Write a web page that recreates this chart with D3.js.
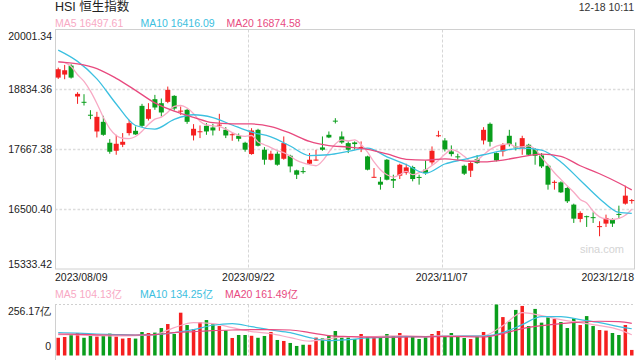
<!DOCTYPE html>
<html><head><meta charset="utf-8">
<script src="https://cdn.jsdelivr.net/npm/d3@7/dist/d3.min.js"></script>
<style>
html,body{margin:0;padding:0;background:#fff;}
svg{display:block;font-family:"Liberation Sans",Arial,"Noto Sans CJK SC",sans-serif;}
</style></head>
<body><svg id="c" width="640" height="360"></svg>
<script>
// ---------- data ----------
const dates = ["2023/08/09","2023/08/10","2023/08/11","2023/08/14","2023/08/15","2023/08/16","2023/08/17","2023/08/18","2023/08/21","2023/08/22","2023/08/23","2023/08/24","2023/08/25","2023/08/28","2023/08/29","2023/08/30","2023/08/31",
"2023/09/04","2023/09/05","2023/09/06","2023/09/07","2023/09/11","2023/09/12","2023/09/13","2023/09/14","2023/09/15","2023/09/18","2023/09/19","2023/09/20","2023/09/21","2023/09/22","2023/09/25","2023/09/26","2023/09/27","2023/09/28","2023/09/29",
"2023/10/03","2023/10/04","2023/10/05","2023/10/06","2023/10/09","2023/10/10","2023/10/11","2023/10/12","2023/10/13","2023/10/16","2023/10/17","2023/10/18","2023/10/19","2023/10/20","2023/10/24","2023/10/25","2023/10/26","2023/10/27","2023/10/30","2023/10/31",
"2023/11/01","2023/11/02","2023/11/03","2023/11/06","2023/11/07","2023/11/08","2023/11/09","2023/11/10","2023/11/13","2023/11/14","2023/11/15","2023/11/16","2023/11/17","2023/11/20","2023/11/21","2023/11/22","2023/11/23","2023/11/24","2023/11/27","2023/11/28","2023/11/29","2023/11/30","2023/12/01",
"2023/12/04","2023/12/05","2023/12/06","2023/12/07","2023/12/08","2023/12/11","2023/12/12","2023/12/13","2023/12/14","2023/12/15","2023/12/18"];

const open  = [19064,19123,19298,18695,18592,18340,18014,18202,17794,17638,17755,17982,18027,18513,18261,18643,18565,18591,18708,18413,18436,17936,18011,18124,18092,18140,18047,17953,17930,17794,
17574,18046,17658,17463,17580,17482,17541,17256,17241,17385,17460,17703,17949,18225,17917,17787,17800,17706,17528,17126,17035,17463,17087,17152,17204,17320,17128,17269,17411,17934,
17839,17625,17529,17346,17249,17476,17839,18163,17593,17625,17930,17722,17690,17755,17670,17547,17346,17026,17022,16912,16588,16309,16363,16344,16164,16218,16296,16407,16607,16672];
const high  = [19259,19311,19324,18779,18740,18429,18397,18319,17865,17949,17982,18241,18111,18552,18565,18727,18656,18889,18721,18500,18455,18157,18131,18176,18163,18358,18098,17982,17975,17813,
18078,18066,17709,17638,17625,17917,17560,17269,17320,17593,17658,17917,18014,18273,18014,17820,17820,17820,17541,17301,17126,17476,17171,17385,17385,17346,17171,17450,17722,18027,
17884,17742,17580,17366,17418,17554,18098,18189,17606,17787,18046,17800,17930,17774,17690,17593,17366,17061,17042,16932,16607,16458,16374,16439,16264,16393,16322,16568,16957,16698];
const low   = [19038,19032,19045,18552,18520,18254,17897,17930,17580,17560,17709,17936,17949,18098,18228,18436,18306,18565,18423,18338,18163,17839,17885,17949,17936,18027,17885,17833,17820,17619,
17560,17722,17366,17450,17346,17463,17217,17087,17191,17366,17444,17638,17884,18170,17774,17593,17658,17612,17256,17113,16880,17061,16912,17087,17171,17042,16977,17171,17366,17904,
17625,17528,17463,17165,17126,17385,17761,17722,17431,17528,17722,17645,17560,17547,17366,17301,16880,16880,16815,16620,16231,16244,16153,16231,15972,16153,16153,16309,16588,16607];
const close = [19227,19207,19064,18747,18582,18334,18299,17949,17619,17774,17813,18176,17956,18124,18449,18481,18384,18825,18461,18420,18202,18066,18018,18014,18034,18147,17936,17960,17871,17658,
18033,17735,17463,17580,17366,17787,17333,17171,17236,17463,17466,17658,17897,18219,17800,17658,17768,17712,17269,17130,16977,17074,17055,17366,17314,17087,17124,17204,17638,17940,
17665,17573,17525,17191,17398,17398,18046,17813,17450,17755,17768,17703,17884,17560,17541,17333,16977,17032,16828,16653,16315,16426,16358,16338,16169,16328,16218,16402,16763,16677];

// turnover, 亿
const volume = [89,93,104,113,89,98,95,99,110,95,85,88,85,118,113,115,138,158,108,215,153,133,168,178,157,148,125,88,103,103,
99,89,98,118,78,73,63,48,54,54,90,86,100,123,90,90,83,108,98,95,90,108,98,113,98,98,83,91,108,123,
98,113,93,88,83,95,118,95,256.17,193,170,229,249,148,234,165,192,183,168,138,187,153,198,148,128,125,113,103,153,28];

// moving averages
const ma5 = [19375,19355,19280,19120,18990,18800,18560,18290,18070,17935,17882,17875,17915,18020,18150,18254,18293,18390,18505,18520,18470,18360,18215,18140,18124,18110,18060,17990,17940,17920,
17935,17810,17755,17700,17640,17600,17530,17450,17400,17366,17346,17440,17610,17770,17850,17830,17850,17760,17610,17420,17269,17171,17126,17171,17236,17171,17210,17265,17350,17450,
17570,17660,17620,17530,17440,17460,17560,17660,17730,17760,17772,17715,17715,17735,17670,17510,17360,17210,17080,16950,16830,16690,16620,16460,16350,16309,16298,16320,16380,16497.61];
const maIdx = [0,3,6,9,12,15,18,21,24,27,30,33,36,39,42,45,48,51,54,57,60,63,66,69,72,75,78,81,84,87,89];
const ma10 = [19600,19380,19040,18550,18130,18060,18250,18340,18285,18140,18000,17910,17730,17545,17560,17625,17688,17520,17370,17200,17380,17470,17560,17640,17690,17650,17420,17065,16705,16435,16416.09];
const ma20 = [19369,19330,19240,19050,18815,18570,18410,18290,18185,18163,18160,18110,17980,17820,17740,17710,17665,17575,17470,17455,17480,17440,17420,17455,17525,17573,17530,17346,17190,17010,16874.58];
const volMa5  = [105,103,100,98,100,105,140,165,160,140,120,110,90,72,85,95,95,98,100,95,100,100,100,150,215,200,180,165,150,130,104.13];
const volMa10 = [115,112,108,105,103,105,115,130,152,160,145,128,115,90,75,80,88,92,95,95,96,97,98,115,155,195,195,180,165,145,134.25];
const volMa20 = [108,106,104,103,103,105,115,120,125,128,130,130,128,115,100,95,92,92,93,94,95,95,93,110,135,150,160,168,172,170,161.49];

const priceTicks = [20001.34, 18834.36, 17667.38, 16500.40, 15333.42];
const volTicks = [256.17, 0];
const dateTicks = ["2023/08/09","2023/09/22","2023/11/07","2023/12/18"];
const title = "HSI 恒生指数";
const stamp = "12-18 10:11";

// ---------- drawing ----------
const RED="#f51f1f", GREEN="#0a9e1c";
const C5="#f8a9c4", C10="#3cc0e0", C20="#e84a7f";
const svg = d3.select("#c");
const X0=55, X1=635;
const x = d3.scaleBand().domain(dates).range([X0,X1]).padding(0);
const step = x.step();
const cx = i => x(dates[i]) + step/2;
const y = d3.scaleLinear().domain([15333.42,20001.34]).range([269,29.5]);
const yv = d3.scaleLinear().domain([0,256.17]).range([355.5,304.5]);

// title & legends
svg.append("text").attr("x",55).attr("y",11).attr("font-size",12.5).attr("fill","#222").text(title);
svg.append("text").attr("x",634).attr("y",11).attr("text-anchor","end").attr("font-size",10.5).attr("fill","#333").text(stamp);
function legend(yy, items){
  items.forEach(it=>{
    svg.append("text").attr("x",it[0]).attr("y",yy).attr("font-size",10.5).attr("fill",it[1]).text(it[2]);
  });
}
legend(27,[[55,C5,"MA5 "+ma5[ma5.length-1].toFixed(2)],[140.5,C10,"MA10 "+ma10[ma10.length-1].toFixed(2)],[226.5,C20,"MA20 "+ma20[ma20.length-1].toFixed(2)]]);
legend(298,[[55,C5,"MA5 "+volMa5[volMa5.length-1].toFixed(2)+"亿"],[140,C10,"MA10 "+volMa10[volMa10.length-1].toFixed(2)+"亿"],[225,C20,"MA20 "+volMa20[volMa20.length-1].toFixed(2)+"亿"]]);

// main frame & grid
const g = svg.append("g");
g.selectAll("line.hg").data(priceTicks.slice(1,4)).enter().append("line")
  .attr("x1",X0).attr("x2",X1).attr("y1",d=>Math.round(y(d))+0.5).attr("y2",d=>Math.round(y(d))+0.5)
  .attr("stroke","#dcdcdc").attr("stroke-width",1.5).attr("stroke-dasharray","2.5,2");
[30,60].forEach(i=>{
  const xx = Math.round(x(dates[i]))+0.5;
  g.append("line").attr("x1",xx).attr("x2",xx).attr("y1",29.5).attr("y2",269).attr("stroke","#d6d6d6").attr("stroke-dasharray","3,2");
  g.append("line").attr("x1",xx).attr("x2",xx).attr("y1",304.5).attr("y2",356).attr("stroke","#d6d6d6").attr("stroke-dasharray","3,2");
});
g.append("rect").attr("x",55.5).attr("y",29.5).attr("width",579).attr("height",239.5).attr("fill","none").attr("stroke","#d0d0d0");

// price axis
const ya = svg.append("g").attr("transform","translate(52,0)")
  .call(d3.axisLeft(y).tickValues(priceTicks).tickSize(0).tickPadding(0).tickFormat(d=>d.toFixed(2)));
ya.select(".domain").remove();
ya.selectAll("text").attr("font-size",10.5).attr("fill","#222").attr("font-family",null)
  .attr("dy",(d,i)=> i===0 ? "0.95em" : (i===priceTicks.length-1 ? "-0.15em" : "0.32em"));

// date labels
dateTicks.forEach((d,k)=>{
  const i = dates.indexOf(d);
  let xx, anchor="middle";
  if(k===0){xx=X0; anchor="start";}
  else if(k===dateTicks.length-1){xx=X1-1; anchor="end";}
  else xx = x(dates[i]);
  svg.append("text").attr("x",xx).attr("y",281).attr("text-anchor",anchor).attr("font-size",10.5).attr("fill","#222").text(d);
});

// watermark
svg.append("text").attr("x",602).attr("y",253).attr("text-anchor","middle").attr("font-size",11).attr("fill","#d4d4d4").text("sina.com");

// candles
const clip = svg.append("clipPath").attr("id","pc").append("rect").attr("x",56).attr("y",30).attr("width",578).attr("height",238.5);
const cg = svg.append("g");
const bw = 5;
dates.forEach((d,i)=>{
  const up = close[i] >= open[i];
  const col = up ? RED : GREEN;
  const c = cx(i);
  cg.append("line").attr("x1",c).attr("x2",c).attr("y1",y(high[i])).attr("y2",y(low[i])).attr("stroke",col).attr("stroke-width",1);
  const t = y(Math.max(open[i],close[i])), b = y(Math.min(open[i],close[i]));
  cg.append("rect").attr("x",c-bw/2).attr("y",t).attr("width",bw).attr("height",Math.max(1,b-t)).attr("fill",col);
});

// MA lines
const lg = svg.append("g").attr("clip-path","url(#pc)");
const line = d3.line().curve(d3.curveMonotoneX);
lg.append("path").attr("d",line(ma5.map((v,i)=>[cx(i),y(v)]))).attr("fill","none").attr("stroke",C5).attr("stroke-width",1.3);
lg.append("path").attr("d",line(ma10.map((v,k)=>[cx(maIdx[k]),y(v)]))).attr("fill","none").attr("stroke",C10).attr("stroke-width",1.3);
lg.append("path").attr("d",line(ma20.map((v,k)=>[cx(maIdx[k]),y(v)]))).attr("fill","none").attr("stroke",C20).attr("stroke-width",1.3);

// volume panel
svg.append("line").attr("x1",X0).attr("x2",X1).attr("y1",304.5).attr("y2",304.5).attr("stroke","#d0d0d0").attr("stroke-dasharray","2,2");
svg.append("line").attr("x1",55.5).attr("x2",55.5).attr("y1",304.5).attr("y2",360).attr("stroke","#d0d0d0");
const vb = 3.5;
svg.append("g").selectAll("rect").data(volume).enter().append("rect")
  .attr("x",(v,i)=>cx(i)-vb/2).attr("y",v=>yv(v)).attr("width",vb).attr("height",v=>yv(0)-yv(v))
  .attr("fill",(v,i)=> close[i]>=open[i] ? RED : GREEN);
const vl = d3.line().curve(d3.curveMonotoneX);
[[volMa5,C5],[volMa10,C10],[volMa20,C20]].forEach(([arr,col])=>{
  svg.append("path").attr("d",vl(arr.map((v,k)=>[cx(maIdx[k]),yv(v)]))).attr("fill","none").attr("stroke",col).attr("stroke-width",1.2);
});
const va = svg.append("g").attr("transform","translate(51,0)")
  .call(d3.axisLeft(yv).tickValues(volTicks).tickSize(0).tickPadding(0).tickFormat(d=> d===0 ? "0" : d.toFixed(2)+"亿"));
va.select(".domain").remove();
va.selectAll("text").attr("font-size",10.5).attr("fill","#222").attr("font-family",null)
  .attr("dy",(d,i)=> i===0 ? "0.95em" : "-0.55em");
</script></body></html>
